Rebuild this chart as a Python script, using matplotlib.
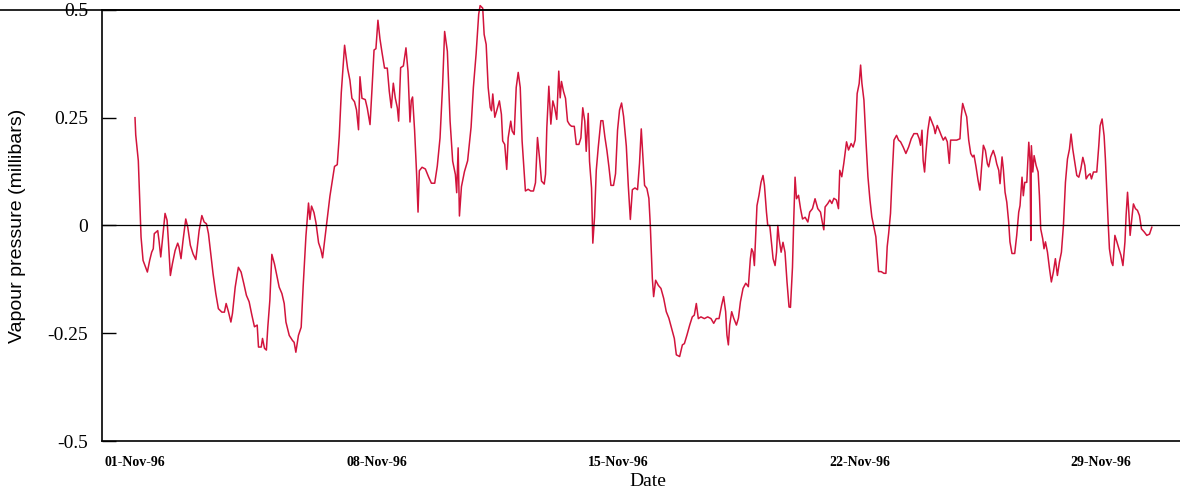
import numpy as np
import pandas as pd
import matplotlib
matplotlib.use("Agg")
import matplotlib.pyplot as plt
import matplotlib.dates as mdates
from matplotlib.lines import Line2D

# vapour pressure anomaly, hours since 01-Nov-96 00:00
hours = [
    0.0, 0.5, 2.3, 3.3, 4.2, 5.6, 8.6, 10.2, 11.6, 12.7, 13.4, 14.8, 15.8, 16.7, 17.9, 19.0,
    20.9, 22.3, 23.2, 24.6, 26.0, 27.9, 29.7, 30.6, 32.0, 33.4, 35.3, 36.7, 38.5, 40.4, 42.3,
    43.2, 44.6, 46.5, 48.1, 49.7, 51.1, 52.7, 54.3, 56.2, 58.0, 60.4, 62.2, 63.4, 65.0, 66.7,
    67.8, 69.7, 71.9, 73.8, 75.7, 77.5, 79.4, 81.3, 83.1, 85.0, 85.9, 87.8, 88.7, 90.1, 91.4,
    92.4, 93.8, 95.2, 97.0, 98.4, 100.3, 102.2, 103.8, 105.0, 107.3, 109.6, 110.7, 111.9,
    113.7, 115.6, 117.0, 118.9, 120.7, 121.7, 122.8, 124.5, 125.9, 127.7, 129.3, 130.5,
    132.3, 134.2, 135.6, 137.4, 138.8, 140.7, 142.1, 143.5, 145.8, 147.9, 149.5, 150.9,
    152.7, 154.1, 155.5, 156.5, 157.9, 160.2, 161.6, 163.5, 164.9, 166.3, 167.6, 169.0,
    170.4, 171.8, 173.6, 175.5, 176.9, 178.3, 179.7, 181.1, 182.5, 183.4, 184.8, 186.7,
    188.5, 189.9, 191.3, 192.2, 193.1, 194.5, 195.9, 196.9, 197.8, 199.7, 202.0, 204.3,
    206.2, 208.5, 210.3, 212.2, 214.0, 215.4, 217.3, 219.2, 221.0, 222.9, 223.8, 224.8,
    225.7, 227.1, 229.2, 231.4, 233.8, 235.4, 237.3, 239.1, 240.1, 241.9, 242.9, 244.3,
    245.7, 247.1, 248.0, 248.9, 250.3, 251.6, 253.5, 254.9, 255.8, 257.2, 258.6, 259.6,
    261.4, 262.4, 263.8, 265.2, 266.6, 268.0, 269.3, 270.7, 271.6, 273.5, 275.3, 277.2,
    278.6, 280.0, 281.4, 282.8, 284.7, 285.6, 286.5, 287.9, 289.3, 290.7, 292.0, 293.4,
    294.8, 295.8, 296.7, 298.1, 299.5, 300.9, 302.3, 303.7, 305.6, 307.0, 308.8, 310.2,
    311.5, 312.9, 313.9, 315.3, 316.2, 317.6, 318.5, 319.7, 320.9, 322.3, 324.1, 325.5,
    326.9, 328.3, 329.7, 331.1, 332.9, 334.3, 335.7, 337.1, 338.5, 339.9, 341.8, 343.2,
    344.6, 346.0, 347.8, 349.6, 351.0, 352.2, 353.3, 354.5, 356.1, 357.5, 358.5, 359.9,
    360.8, 362.2, 364.1, 365.9, 367.8, 369.6, 371.4, 373.3, 375.2, 376.6, 378.9, 380.8,
    382.2, 384.0, 385.9, 387.7, 389.1, 390.5, 391.9, 393.7, 396.1, 398.4, 400.7, 402.6,
    404.4, 406.3, 408.1, 409.5, 410.9, 411.8, 412.8, 413.7, 415.1, 416.5, 418.4, 419.8,
    421.2, 423.0, 424.9, 426.7, 428.1, 429.0, 430.0, 430.9, 431.8, 432.7, 434.1, 435.5,
    436.9, 437.9, 439.3, 440.2, 441.6, 442.5, 443.9, 445.3, 446.3, 447.2, 448.1, 449.5,
    450.8, 452.2, 453.6, 455.0, 456.0, 457.4, 458.3, 459.2, 460.2, 461.6, 463.0, 464.4,
    466.2, 468.1, 469.4, 471.3, 473.1, 475.0, 476.9, 478.3, 479.2, 480.1, 482.0, 483.4,
    484.8, 486.2, 488.0, 489.4, 490.3, 491.7, 493.1, 495.0, 496.4, 498.2, 499.6, 501.0,
    502.4, 503.8, 504.8, 505.7, 507.1, 508.5, 509.9, 511.3, 512.6, 514.0, 515.4, 516.3,
    517.3, 519.1, 521.0, 522.4, 523.3, 524.3, 525.6, 526.6, 528.0, 529.8, 531.2, 532.6,
    534.4, 536.3, 538.2, 540.0, 541.9, 544.2, 545.6, 546.5, 547.5, 548.3, 549.3, 550.2,
    551.6, 553.0, 554.4, 555.8, 556.7, 558.1, 559.5, 560.9, 562.3, 563.7, 565.1, 566.5,
    567.4, 571.6, 573.9, 574.8, 575.8, 577.2, 578.6, 580.0, 581.4, 582.8, 583.7, 585.1,
    586.5, 587.8, 588.8, 590.2, 591.6, 593.0, 593.9, 595.3, 597.1, 598.5, 599.5, 600.9,
    601.8, 603.2, 604.1, 605.3, 606.5, 607.8, 608.7, 610.1, 612.0, 613.4, 614.8, 615.7,
    617.1, 618.0, 619.0, 620.4, 621.8, 622.7, 623.2, 623.6, 624.6, 625.5, 626.9, 628.3,
    629.2, 630.1, 631.5, 632.4, 633.4, 634.8, 636.2, 637.5, 638.9, 640.3, 641.7, 643.1,
    644.5, 645.9, 647.3, 648.7, 650.1, 651.2, 652.4, 653.8, 655.2, 656.6, 658.0, 659.4,
    660.8, 661.7, 663.1, 664.5, 665.4, 666.8, 669.1, 670.5, 671.4, 672.8, 674.2, 675.1,
    676.1, 677.0, 677.9, 679.3, 680.3, 681.7, 683.1, 684.5, 685.9, 687.3, 688.7, 689.5,
    690.5, 691.4, 692.3, 693.7, 694.6, 696.0, 697.4, 698.8, 700.2, 702.1, 703.9, 705.8,
    707.4,
]
vapour = [
    0.250, 0.210, 0.150, 0.058, -0.027, -0.081, -0.108, -0.081, -0.062, -0.054, -0.019, -0.015,
    -0.012, -0.035, -0.073, -0.035, 0.028, 0.012, -0.035, -0.116, -0.089, -0.058, -0.041,
    -0.050, -0.077, -0.035, 0.015, -0.004, -0.046, -0.066, -0.079, -0.054, -0.012, 0.023,
    0.008, 0.004, -0.019, -0.066, -0.112, -0.158, -0.193, -0.201, -0.201, -0.181, -0.200,
    -0.224, -0.204, -0.143, -0.097, -0.108, -0.135, -0.162, -0.177, -0.208, -0.235, -0.231,
    -0.282, -0.282, -0.262, -0.285, -0.289, -0.235, -0.174, -0.067, -0.089, -0.112, -0.143,
    -0.158, -0.181, -0.224, -0.255, -0.267, -0.271, -0.294, -0.255, -0.236, -0.140, -0.025,
    0.052, 0.014, 0.045, 0.030, 0.006, -0.040, -0.056, -0.075, -0.025, 0.029, 0.068, 0.106,
    0.137, 0.141, 0.207, 0.308, 0.418, 0.364, 0.337, 0.295, 0.287, 0.268, 0.222, 0.345,
    0.295, 0.292, 0.272, 0.234, 0.318, 0.407, 0.410, 0.476, 0.433, 0.402, 0.365, 0.365,
    0.311, 0.273, 0.330, 0.295, 0.273, 0.242, 0.366, 0.370, 0.412, 0.358, 0.240, 0.290,
    0.298, 0.221, 0.120, 0.031, 0.127, 0.135, 0.131, 0.112, 0.098, 0.098, 0.138, 0.203,
    0.326, 0.450, 0.404, 0.242, 0.149, 0.118, 0.076, 0.180, 0.022, 0.090, 0.125, 0.150,
    0.228, 0.320, 0.398, 0.490, 0.510, 0.504, 0.443, 0.420, 0.320, 0.274, 0.266, 0.305,
    0.251, 0.266, 0.289, 0.258, 0.196, 0.188, 0.130, 0.203, 0.242, 0.219, 0.211, 0.320,
    0.355, 0.320, 0.196, 0.126, 0.080, 0.084, 0.080, 0.080, 0.099, 0.204, 0.157, 0.103,
    0.096, 0.119, 0.227, 0.323, 0.235, 0.289, 0.273, 0.246, 0.358, 0.296, 0.334, 0.311,
    0.295, 0.242, 0.234, 0.230, 0.230, 0.188, 0.188, 0.203, 0.273, 0.242, 0.172, 0.260,
    0.149, 0.087, -0.041, 0.020, 0.128, 0.182, 0.243, 0.243, 0.205, 0.174, 0.136, 0.093,
    0.093, 0.120, 0.221, 0.268, 0.284, 0.253, 0.184, 0.091, 0.014, 0.083, 0.087, 0.083,
    0.145, 0.224, 0.163, 0.093, 0.086, 0.063, 0.000, -0.123, -0.165, -0.127, -0.139, -0.146,
    -0.169, -0.200, -0.215, -0.239, -0.262, -0.300, -0.304, -0.277, -0.274, -0.254, -0.231,
    -0.212, -0.208, -0.181, -0.216, -0.212, -0.216, -0.212, -0.216, -0.227, -0.216, -0.216,
    -0.185, -0.165, -0.200, -0.254, -0.277, -0.231, -0.200, -0.215, -0.231, -0.215, -0.177,
    -0.146, -0.134, -0.142, -0.077, -0.054, -0.062, -0.093, -0.023, 0.046, 0.070, 0.100,
    0.116, 0.093, 0.031, 0.000, 0.000, -0.031, -0.077, -0.093, -0.062, 0.000, -0.031, -0.062,
    -0.039, -0.062, -0.131, -0.189, -0.190, -0.097, 0.015, 0.112, 0.062, 0.070, 0.039, 0.015,
    0.019, 0.008, 0.031, 0.039, 0.062, 0.039, 0.031, 0.005, -0.010, 0.043, 0.051, 0.059,
    0.051, 0.063, 0.059, 0.039, 0.128, 0.113, 0.144, 0.194, 0.175, 0.190, 0.182, 0.198,
    0.306, 0.329, 0.372, 0.330, 0.291, 0.198, 0.113, 0.059, 0.020, -0.003, -0.026, -0.065,
    -0.107, -0.107, -0.111, -0.111, -0.049, -0.019, 0.028, 0.105, 0.198, 0.209, 0.198, 0.194,
    0.182, 0.167, 0.182, 0.201, 0.213, 0.213, 0.201, 0.186, 0.221, 0.151, 0.124, 0.167,
    0.221, 0.252, 0.240, 0.228, 0.213, 0.232, 0.221, 0.209, 0.198, 0.205, 0.194, 0.144,
    0.198, 0.198, 0.201, 0.252, 0.283, 0.267, 0.252, 0.198, 0.167, 0.159, 0.163, 0.136,
    0.105, 0.082, 0.128, 0.186, 0.174, 0.143, 0.136, 0.159, 0.174, 0.159, 0.143, 0.128,
    0.097, 0.159, 0.131, 0.077, 0.054, 0.008, -0.038, -0.065, -0.065, -0.023, 0.031, 0.046,
    0.112, 0.069, 0.100, 0.100, 0.193, 0.147, -0.035, 0.185, 0.124, 0.162, 0.139, 0.124,
    0.069, -0.008, -0.031, -0.054, -0.038, -0.062, -0.100, -0.131, -0.108, -0.077, -0.116,
    -0.085, -0.062, 0.000, 0.100, 0.154, 0.177, 0.212, 0.177, 0.147, 0.116, 0.112, 0.131,
    0.158, 0.139, 0.108, 0.116, 0.120, 0.108, 0.124, 0.124, 0.185, 0.231, 0.247, 0.208,
    0.154, 0.077, 0.008, -0.054, -0.085, -0.093, -0.023, -0.038, -0.054, -0.069, -0.093,
    -0.038, 0.023, 0.077, 0.031, -0.023, 0.023, 0.050, 0.039, 0.035, 0.023, -0.008, -0.015,
    -0.023, -0.020, -0.004,
]
yticks = [0.5, 0.25, 0, -0.25, -0.5]
ytick_labels = ["0.5", "0.25", "0", "-0.25", "-0.5"]
xtick_days = ["1996-11-01", "1996-11-08", "1996-11-15", "1996-11-22", "1996-11-29"]

start = pd.Timestamp("1996-11-01")
times = start + pd.to_timedelta(hours, unit="h")

fig = plt.figure(figsize=(11.8, 4.95), dpi=100)
ax = fig.add_axes([0.0864, 0.109, 0.9136, 0.871])

ax.plot(times, vapour, color="#d2143c", linewidth=1.1, clip_on=False)
ax.axhline(0, color="black", linewidth=0.9)

ax.set_ylim(-0.5, 0.5)
ax.set_xlim(start - pd.Timedelta(hours=23), start + pd.Timedelta(hours=727))

ax.set_yticks(yticks)
ax.set_yticklabels(ytick_labels, family="Liberation Serif", fontsize=14)
ax.tick_params(axis="y", direction="in", length=10, width=1.0, pad=10)

ax.set_xticks(pd.to_datetime(xtick_days))
ax.xaxis.set_major_formatter(mdates.DateFormatter("%d-%b-%y"))
for lab in ax.get_xticklabels():
    lab.set_family("Liberation Serif")
    lab.set_fontweight("bold")
    lab.set_fontsize(10)
ax.tick_params(axis="x", length=0, pad=11)

ax.spines["right"].set_visible(False)
ax.spines["left"].set_linewidth(1.2)
ax.spines["bottom"].set_linewidth(1.2)
ax.spines["top"].set_linewidth(1.2)

ax.set_ylabel("Vapour pressure (millibars)", family="Liberation Sans", fontsize=14)
ax.yaxis.set_label_coords(-0.07, 0.5)
ax.set_xlabel("Date", family="Liberation Serif", fontsize=14)
ax.xaxis.set_label_coords(0.5065, -0.075)

# chart frame line running across the top of the page
fig.add_artist(Line2D([0, 1], [0.98, 0.98], color="black", linewidth=1.2))

fig.savefig("out.png", dpi=100)
